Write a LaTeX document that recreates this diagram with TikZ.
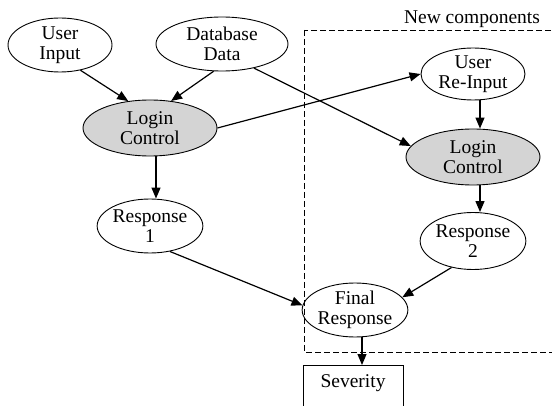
\documentclass[tikz,border=0pt]{standalone}
\usepackage{fontspec}
\setmainfont{Liberation Serif}
\usetikzlibrary{arrows.meta,shapes.geometric}
\definecolor{ctrlfill}{RGB}{212,212,212}
\definecolor{ink}{RGB}{0,0,0}

\begin{document}
\begin{tikzpicture}[
  x=1pt, y=-1pt,
  font=\fontsize{19.5}{19.5}\selectfont,
  entity/.style={draw=ink, ellipse, line width=0.9pt, align=center, inner sep=0pt,
    minimum width=104pt, minimum height=54pt},
  ctrl/.style={entity, fill=ctrlfill, minimum width=134pt, minimum height=56pt},
  sevbox/.style={draw=ink, rectangle, line width=0.9pt, minimum width=100pt,
    inner ysep=9pt, text depth=40pt, anchor=north},
  arr/.style={-{Triangle[length=11pt,width=9pt]}, color=ink, line width=1.2pt},
  grp/.style={draw=ink, dash pattern=on 6pt off 3pt, line width=0.9pt}
]
\useasboundingbox (0,0) rectangle (552,406);
\draw[grp] (304,30) rectangle (560,352);
\node (newc) at (472,19) {New components};
% inputs
\node[entity] (uin) at (60,45) {User\\Input};
\node[entity, minimum width=132pt] (db) at (222,44) {Database\\Data};
\node[ctrl] (lc1) at (150,128) {Login\\Control};
\node[entity] (r1) at (150,226) {Response\\1};
% new components
\node[entity, minimum height=52pt] (reuin) at (473,74) {User\\Re-Input};
\node[ctrl] (lc2) at (473,157) {Login\\Control};
\node[entity, minimum height=57pt] (r2) at (473,241) {Response\\2};
\node[entity] (fin) at (355,310) {Final\\Response};
\node[sevbox] (sev) at (353,365) {Severity};
% connectors
\draw[arr] (uin.-51) -- (lc1.129);
\draw[arr] (db.-107) -- (lc1.52);
\draw[arr] (lc1.east) -- (reuin.west);
\draw[arr] (db.-37) -- (lc2.170);
\draw[arr] ([xshift=6pt]lc1.south) -- ([xshift=6pt]r1.north);
\draw[arr] ([xshift=7pt]reuin.south) -- ([xshift=7pt]lc2.north);
\draw[arr] ([xshift=7pt]lc2.south) -- ([xshift=7pt]r2.north);
\draw[arr] (r1.-52) -- (fin.175);
\draw[arr] (r2.-129) -- (fin.15);
\draw[arr] ([xshift=7pt]fin.south) -- ([xshift=9pt]sev.north);
\end{tikzpicture}
\end{document}
